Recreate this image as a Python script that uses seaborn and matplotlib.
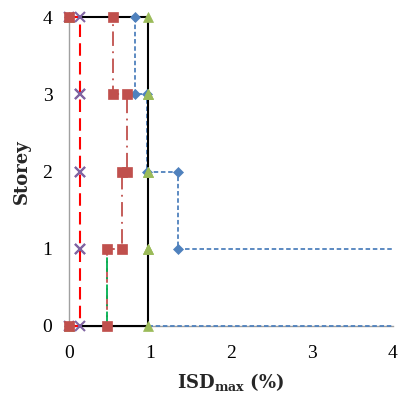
import matplotlib
matplotlib.use("Agg")
import matplotlib.pyplot as plt
import matplotlib.patches as mpatches
import seaborn as sns
import pandas as pd

# ---- data ----
storey_y = [0, 0, 1, 1, 2, 2, 3, 3, 4, 4]
blue_x = [0, 6.0, 6.0, 1.35, 1.35, 0.96, 0.96, 0.81, 0.81, 0]
red_x = [0, 0.47, 0.47, 0.66, 0.66, 0.71, 0.71, 0.54, 0.54, 0]
black_x = [0, 0.97, 0.97, 0.97, 0.97, 0.97, 0.97, 0.97, 0.97, 0]
purple_x = [0, 0.14, 0.14, 0.14, 0.14, 0.14, 0.14, 0.14, 0.14, 0]
green_x = [0.47, 0.47]
green_y = [0, 1]
x_ticks = [0, 1, 2, 3, 4]
y_ticks = [0, 1, 2, 3, 4]

sns.set_theme(style="white")
plt.rcParams['font.family'] = ['Liberation Serif', 'DejaVu Serif']
plt.rcParams['mathtext.fontset'] = 'dejavuserif'

fig = plt.figure(figsize=(3.98, 3.94), dpi=100)
ax = fig.add_axes([69/398, 68/394, 324/398, 309/394])

series = [
    dict(x=blue_x, y=storey_y, lc="#4F81BD", ls=(0, (2.5, 1.5)), lw=1.3,
         m="D", mc="#4F81BD", ms=5.5, z=12),
    dict(x=red_x, y=storey_y, lc="#C0504D", ls=(0, (8, 3, 1, 3)), lw=1.3,
         m="s", mc="#C0504D", ms=7.5, z=16),
    dict(x=black_x, y=storey_y, lc="black", ls="-", lw=1.5,
         m="^", mc="#9BBB59", ms=7.5, z=13),
    dict(x=purple_x, y=storey_y, lc="#FF0000", ls=(0, (6, 3)), lw=1.5,
         m="x", mc="#8064A2", ms=7, z=14),
]

ax.set_xlim(0, 4)
ax.set_ylim(0, 4)

def clip_rect():
    r = mpatches.Rectangle((-0.5, -0.5), 4.5, 5.0, transform=ax.transData,
                           facecolor="none", edgecolor="none")
    return r

for i, s in enumerate(series):
    df = pd.DataFrame({"x": s["x"], "y": s["y"]})
    sns.lineplot(data=df, x="x", y="y", sort=False, estimator=None, ax=ax,
                 color=s["lc"], linewidth=s["lw"], zorder=3 + i)
    ln = ax.lines[-1]
    ln.set_linestyle(s["ls"])
    ln.set_clip_path(clip_rect())

gdf = pd.DataFrame({"x": green_x, "y": green_y})
sns.lineplot(data=gdf, x="x", y="y", sort=False, estimator=None, ax=ax,
             color="#00B050", linewidth=1.3, zorder=7)
ax.lines[-1].set_linestyle((0, (8, 3, 1, 3)))

for i, s in enumerate(series):
    df = pd.DataFrame({"x": s["x"], "y": s["y"]})
    df = df[df["x"] <= 4]
    ax.plot(df["x"], df["y"], linestyle="none", marker=s["m"],
            markersize=s["ms"], markerfacecolor=s["mc"],
            markeredgecolor=s["mc"], markeredgewidth=1.5 if s["m"] == "x" else 0.5,
            clip_on=False, zorder=s["z"])

ax.set_xlim(0, 4)
ax.set_ylim(0, 4)
ax.set_xticks(x_ticks)
ax.set_yticks(y_ticks)
ax.set_xticklabels([str(t) for t in x_ticks])
ax.set_yticklabels([str(t) for t in y_ticks])

for sp in ["top", "right"]:
    ax.spines[sp].set_visible(False)
for sp in ["left", "bottom"]:
    ax.spines[sp].set_color("#A0A0A0")
    ax.spines[sp].set_linewidth(1.0)
    ax.spines[sp].set_zorder(1)

ax.tick_params(axis="both", which="major", direction="out", length=4,
               width=1, color="#A0A0A0", labelsize=14, labelcolor="black")
ax.tick_params(axis="x", pad=10)
ax.tick_params(axis="y", pad=8)

ax.set_xlabel(r"ISD$_{\mathbf{max}}$ (%)", fontsize=13, fontweight="bold",
              family="DejaVu Serif", labelpad=6)
ax.set_ylabel("Storey", fontsize=13, fontweight="bold",
              family="DejaVu Serif", labelpad=8)

fig.savefig("out.png", dpi=100)
